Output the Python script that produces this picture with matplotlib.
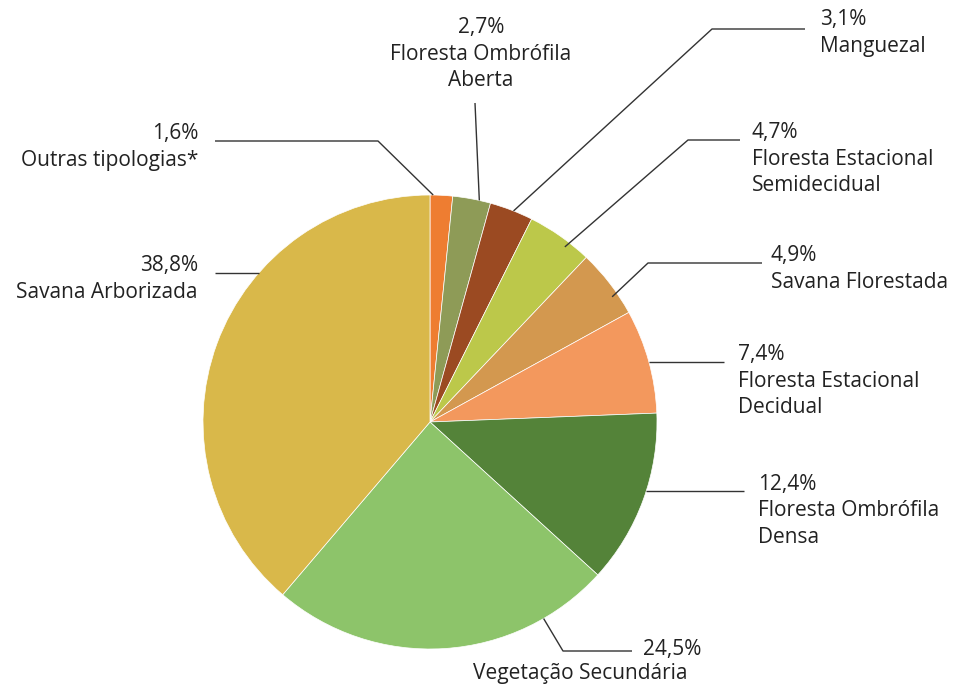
import numpy as np
import matplotlib.pyplot as plt

# Data (clockwise from the top)
labels = ["Outras tipologias*", "Floresta Ombrófila\nAberta", "Manguezal",
          "Floresta Estacional\nSemidecidual", "Savana Florestada",
          "Floresta Estacional\nDecidual", "Floresta Ombrófila\nDensa",
          "Vegetação Secundária", "Savana Arborizada"]
values = [1.6, 2.7, 3.1, 4.7, 4.9, 7.4, 12.4, 24.5, 38.8]
pct_text = ["1,6%", "2,7%", "3,1%", "4,7%", "4,9%", "7,4%", "12,4%", "24,5%", "38,8%"]
colors = ["#EE7D31", "#8E9B57", "#9B4A22", "#BCC84A", "#D3984F",
          "#F3985D", "#548339", "#8DC46A", "#D9B84A"]

W, H = 956, 685
CX, CY, R = 430, 422, 227

def P(x, y):
    # pixel coords (origin top-left) -> data coords
    return x, H - y

fig = plt.figure(figsize=(W / 100, H / 100), dpi=100)
ax = fig.add_axes([0, 0, 1, 1])

wedges, _ = ax.pie(values, colors=colors, startangle=90, counterclock=False,
                   center=P(CX, CY), radius=R,
                   wedgeprops=dict(edgecolor="white", linewidth=0.5))
ax.set_xlim(0, W)
ax.set_ylim(0, H)
ax.set_aspect("equal")
ax.axis("off")

# where on each wedge the leader line touches (fraction of the wedge span)
anchor_frac = [0.14, 0.70, 0.55, 0.65, 0.68, 0.51, 0.45, 0.20, 0.65]
# elbow point(s) and line end, pixel coords; None for y = follow the anchor
paths = [
    [(378, 141), (215, 141)],
    [(475, 103)],
    [(712, 29), (805, 29)],
    [(688, 140), (740, 140)],
    [(648, 263), (762, 263)],
    [(724, None)],
    [(744, None)],
    [(563, 651), (632, 651)],
    [(215, None)],
]
# text position and alignment
text_pos = [(198, 147, "right"), (481, 54, "center"), (820, 33, "left"),
            (752, 159, "left"), (771, 269, "left"), (738, 381, "left"),
            (758, 511, "left"), (643, 649, "left"), (198, 279, "right")]

font = dict(family="Open Sans", size=15, color="#222222")

for i, w in enumerate(wedges):
    t1, t2 = w.theta1, w.theta2
    ang = np.deg2rad(t2 - anchor_frac[i] * (t2 - t1))
    r = R - 6 if i in (3, 4) else R
    ax_pt = (CX + r * np.cos(ang), CY - r * np.sin(ang))
    pts = [ax_pt] + [(px, ax_pt[1] if py is None else py) for px, py in paths[i]]
    xs = [p[0] for p in pts]
    ys = [H - p[1] for p in pts]
    ax.plot(xs, ys, color="#333333", lw=1.0, solid_capstyle="butt")

    x, y, ha = text_pos[i]
    if i == 7:
        ax.text(*P(x, y), pct_text[i], ha="left", va="center", **font)
        ax.text(*P(580, 674), labels[i], ha="center", va="center", **font)
    else:
        ax.text(*P(x, y), pct_text[i] + "\n" + labels[i], ha=ha, va="center",
                multialignment=ha, linespacing=1.35, **font)

fig.savefig("out.png", dpi=100)
